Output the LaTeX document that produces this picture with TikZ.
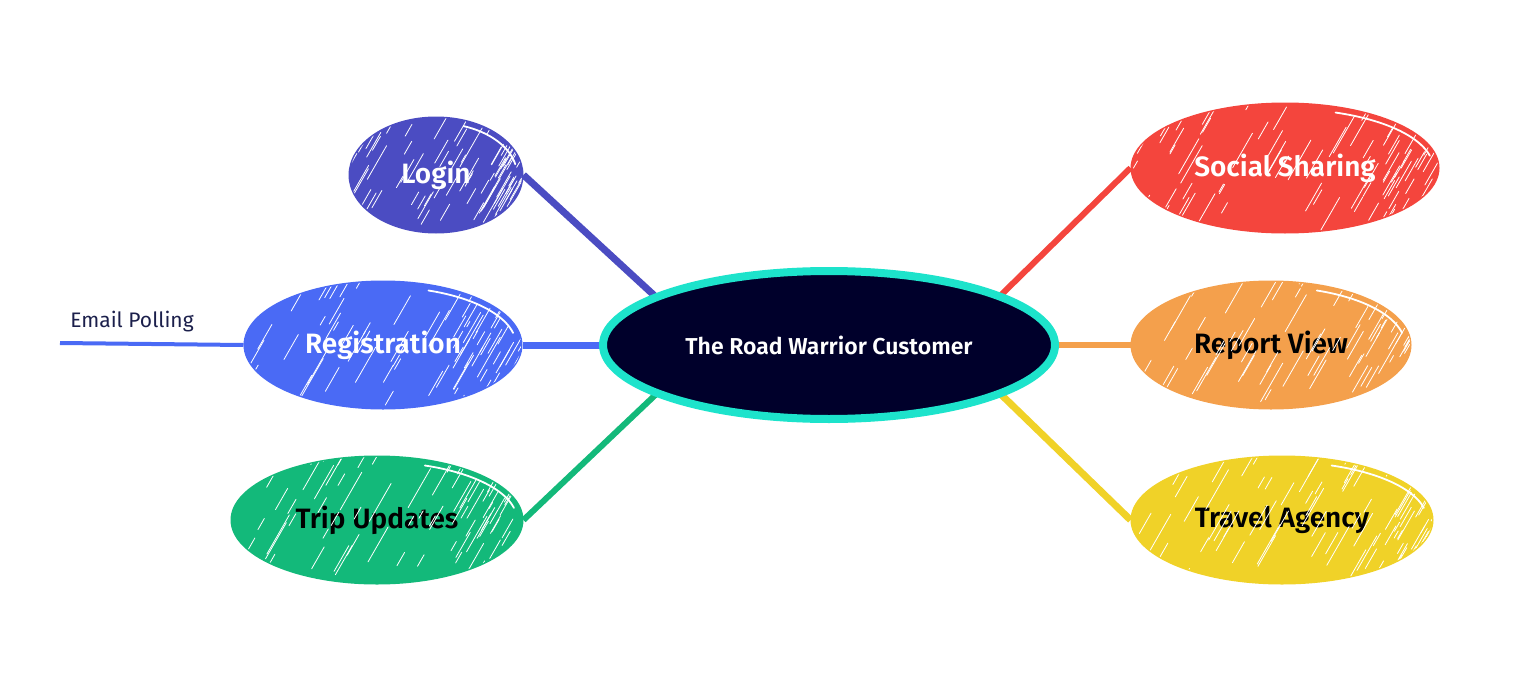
\documentclass[tikz,border=0pt]{standalone}
\usepackage{fontspec}
\setmainfont{Fira Sans}[BoldFont={* SemiBold}]
\usetikzlibrary{shapes.geometric}
\definecolor{cLogin}{HTML}{4B4CC2}
\definecolor{cReg}{HTML}{4A6AF5}
\definecolor{cTrip}{HTML}{13B97A}
\definecolor{cSocial}{HTML}{F4453D}
\definecolor{cReport}{HTML}{F4A04C}
\definecolor{cTravel}{HTML}{F0D228}
\definecolor{cTeal}{HTML}{1DE3CB}
\definecolor{cDark}{HTML}{00002B}
\definecolor{cNavy}{HTML}{1B1F4B}
\tikzset{
  bubble/.style 2 args={ellipse, inner sep=0pt, fill=#1, draw=#1, line width=3pt,
    font=\bfseries\fontsize{28}{32}\selectfont, text=#2},
  link/.style={line width=7pt},
  hatchline/.style={white, line width=0.8pt, line cap=round},
}
\newcommand\hatchit[3]{%
  \begin{scope}
    \clip (#1.center) ellipse [x radius=#2, y radius=#3];
    \begin{scope}[shift={(#1.center)}]
      \foreach \k in {1,...,60}{
        \pgfmathsetmacro\hx{rand*1.05*#2}
        \pgfmathsetmacro\hy{rand*#3}
        \pgfmathsetmacro\hl{8+rnd*38}
        \draw[hatchline] (\hx,\hy) -- ++(0.5*\hl,-0.87*\hl);
      }
      \foreach \k in {1,...,30}{
        \pgfmathsetmacro\hx{(0.5+0.55*rnd)*#2}
        \pgfmathsetmacro\hy{(-0.3+1.3*rnd)*#3}
        \pgfmathsetmacro\hl{6+rnd*30}
        \draw[hatchline] (\hx,\hy) -- ++(0.5*\hl,-0.87*\hl);
      }
      \draw[white, line width=1.8pt, line cap=round] plot[domain=12:70, samples=25, smooth]
        ({(#2-5)*cos(\x)},{-(#3-5)*sin(\x)});
    \end{scope}
  \end{scope}}
\begin{document}
\begin{tikzpicture}[x=1pt,y=-1pt]
\pgfmathsetseed{11}
\useasboundingbox (0,0) rectangle (1536,693);
% hidden hub points under the central node
\coordinate (hubL) at (708,345);
\coordinate (hubR) at (950,345);
\coordinate (emailEnd) at (60,343);
% nodes
\node[bubble={cLogin}{white}, minimum width=172pt, minimum height=114pt] (login) at (436,175) {Login};
\node[bubble={cReg}{white}, minimum width=276pt, minimum height=126pt] (reg) at (383,345) {Registration};
\node[bubble={cTrip}{black}, minimum width=290pt, minimum height=126pt] (trip) at (377,520) {Trip Updates};
\node[bubble={cSocial}{white}, minimum width=306pt, minimum height=128pt] (social) at (1285,168) {Social Sharing};
\node[bubble={cReport}{black}, minimum width=278pt, minimum height=126pt] (report) at (1271,345) {Report View};
\node[bubble={cTravel}{black}, minimum width=300pt, minimum height=126pt] (travel) at (1282,520) {Travel Agency};
\hatchit{login}{86}{57}
\hatchit{reg}{138}{63}
\hatchit{trip}{145}{63}
\hatchit{social}{153}{64}
\hatchit{report}{139}{63}
\hatchit{travel}{150}{63}
% connectors
\draw[link, cLogin] (login.east) -- (hubL);
\draw[link, cReg] (reg.east) -- (hubL);
\draw[link, cTrip, line width=6pt] (trip.east) -- (hubL);
\draw[link, cSocial, line width=6pt] (social.west) -- (hubR);
\draw[link, cReport, line width=6pt] (report.west) -- (hubR);
\draw[link, cTravel] (travel.west) -- (hubR);
\draw[cReg, line width=4pt] (reg.west) -- (emailEnd);
% central node
\node[ellipse, inner sep=0pt, minimum width=452pt, minimum height=148pt, fill=cDark, draw=cTeal, line width=8pt,
  text=white, font=\bfseries\fontsize{23}{27}\selectfont] (center) at (829,345) {The Road Warrior Customer};
% label
\node[text=cNavy, font=\fontsize{21}{25}\selectfont, anchor=base] (email) at (132,327) {Email Polling};
\end{tikzpicture}
\end{document}
